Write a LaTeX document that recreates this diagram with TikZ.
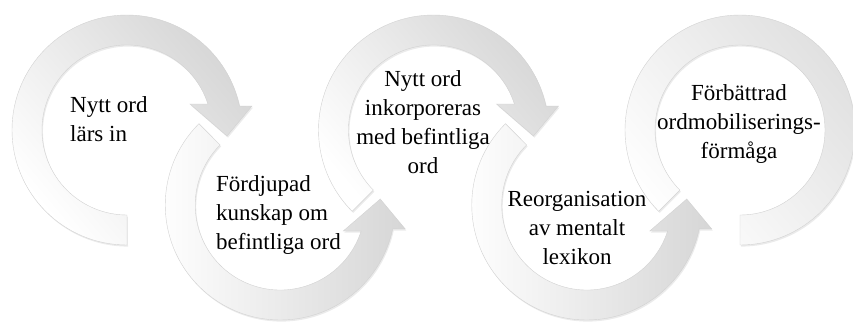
\documentclass[tikz,border=0pt]{standalone}
\usepackage{fontspec}
\setmainfont{Liberation Serif}
\usetikzlibrary{calc}
\usetikzlibrary{shadows}

\tikzset{
  ring/.style={draw=gray!35, line width=.4bp,
    drop shadow={shadow xshift=1bp, shadow yshift=-1.6bp, opacity=.2, fill=gray!80}},
  stagetext/.style={inner sep=0, font=\fontsize{23bp}{29bp}\selectfont}
}

\begin{document}
\begin{tikzpicture}[x=1bp, y=-1bp]
\useasboundingbox (0,0) rectangle (853,321);
\foreach \cx/\sa in {127/90, 433.5/135} {
 \path[ring, top color=gray!32, middle color=white!96!gray, bottom color=white, shading angle=-50]
   ({\cx+115*cos(\sa)},{130+115*sin(\sa)}) arc[start angle=\sa, end angle=348, radius=115]
   -- ({\cx+125},106) -- ({\cx+100},136) -- ({\cx+63},104) -- ({\cx+80.9},104)
   arc[start angle=342.2, end angle=\sa, radius=85] -- cycle;
}
\foreach \cx in {280.25, 586.75} {
 \path[ring, left color=white, middle color=white!96!gray, right color=gray!32]
   ({\cx+115*cos(225)},{205+115*sin(225)}) arc[start angle=225, end angle=12, radius=115]
   -- ({\cx+125},229) -- ({\cx+100},199) -- ({\cx+63},231) -- ({\cx+80.9},231)
   arc[start angle=17.8, end angle=225, radius=85] -- cycle;
}
\path[ring, top color=gray!25, middle color=white!96!gray, bottom color=white, shading angle=-50]
  ({740+115*cos(135)},{130+115*sin(135)}) arc[start angle=135, end angle=450, radius=115]
  -- (740,215) arc[start angle=450, end angle=135, radius=85] -- cycle;

\node[stagetext, anchor=north west, align=left] (t1) at (70,96) {Nytt ord\\lärs in};
\node[stagetext, anchor=north west, align=left] (t2) at (216,175) {Fördjupad\\kunskap om\\befintliga ord};
\node[stagetext, anchor=north, align=center] (t3) at (423,70) {Nytt ord\\inkorporeras\\med befintliga\\ord};
\node[stagetext, anchor=north, align=center] (t4) at (577,191) {Reorganisation\\av mentalt\\lexikon};
\node[stagetext, anchor=north, align=center] (t5) at (739,84) {Förbättrad\\ordmobiliserings-\\förmåga};
\end{tikzpicture}
\end{document}
